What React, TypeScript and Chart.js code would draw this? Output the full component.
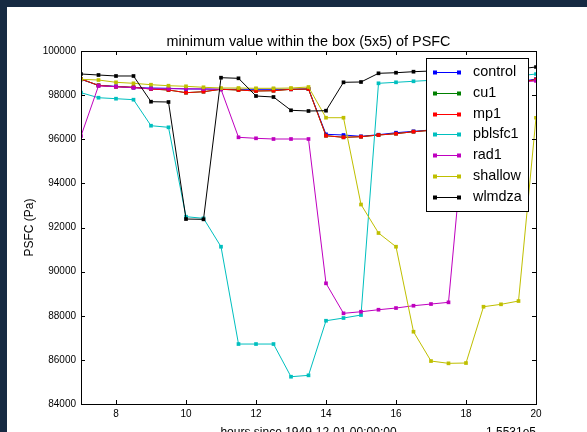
import React, { useEffect, useRef } from "react";
import { Chart, registerables } from "chart.js";

Chart.register(...registerables);

const W = 587;
const H = 432;

const hours = [7, 7.5, 8, 8.5, 9, 9.5, 10, 10.5, 11, 11.5, 12, 12.5, 13, 13.5, 14, 14.5, 15, 15.5, 16, 16.5, 17, 17.5, 18, 18.5, 19, 19.5, 20];

const control = [98717, 98440, 98400, 98336, 98323, 98309, 98277, 98277, 98264, 98264, 98264, 98264, 98264, 98277, 96224, 96192, 96133, 96206, 96297, 96360, 96419, 96464, 96510, 96555, 96620, 98600, 98730];
const cu1 = [98730, 98440, 98382, 98355, 98277, 98232, 98110, 98155, 98264, 98232, 98187, 98200, 98264, 98277, 96160, 96088, 96115, 96192, 96251, 96342, 96405, 96450, 96500, 96550, 96610, 98580, 98700];
const mp1 = [98730, 98440, 98382, 98355, 98277, 98232, 98110, 98155, 98264, 98232, 98187, 98200, 98264, 98277, 96160, 96088, 96115, 96192, 96251, 96342, 96405, 96450, 96500, 96550, 96610, 98580, 98700];
const pblsfc1 = [98110, 97883, 97838, 97793, 96614, 96541, 92489, 92416, 91129, 86718, 86718, 86718, 85236, 85299, 87774, 87897, 88033, 98536, 98581, 98627, 98672, 98708, 98731, 98776, 98820, 98870, 98957];
const rad1 = [96147, 98420, 98382, 98336, 98291, 98291, 98291, 98277, 98264, 96088, 96043, 96011, 96011, 96011, 89470, 88110, 88182, 88273, 88350, 88454, 88531, 88608, 97240, 98500, 98550, 98600, 98640];
const shallow = [98717, 98685, 98581, 98536, 98472, 98427, 98400, 98355, 98323, 98323, 98309, 98309, 98323, 98368, 96976, 96976, 93042, 91750, 91129, 87276, 85947, 85843, 85857, 88409, 88518, 88667, 96976];
const wlmdza = [98957, 98912, 98867, 98867, 97702, 97688, 92384, 92370, 98790, 98762, 97960, 97915, 97312, 97280, 97294, 98581, 98595, 98989, 99016, 99062, 99093, 99100, 99110, 99130, 99150, 99180, 99275];

const seriesNames = ["control", "cu1", "mp1", "pblsfc1", "rad1", "shallow", "wlmdza"];
const seriesColors = ["#0000ff", "#008000", "#ff0000", "#00bfbf", "#bf00bf", "#bfbf00", "#000000"];

const xTicks = [8, 10, 12, 14, 16, 18, 20];
const yTicks = [84000, 86000, 88000, 90000, 92000, 94000, 96000, 98000, 100000];

const titleText = "minimum value within the box (5x5) of PSFC";
const xLabel = "hours since 1949-12-01 00:00:00";
const yLabel = "PSFC (Pa)";
const offsetText = "1.5531e5";

const FONT = "'Liberation Sans', Arial, Helvetica, sans-serif";

export default function App() {
  const ref = useRef<HTMLCanvasElement>(null);

  useEffect(() => {
    const canvas = ref.current;
    if (!canvas) return;
    const values = [control, cu1, mp1, pblsfc1, rad1, shallow, wlmdza];
    const datasets = seriesNames.map((name, i) => ({
      label: name,
      data: hours.map((h, j) => ({ x: h, y: values[i][j] })),
      borderColor: seriesColors[i],
      backgroundColor: seriesColors[i],
      borderWidth: 1,
      pointRadius: 2.6,
      pointStyle: "rect" as const,
      pointBorderWidth: 0,
      tension: 0,
      order: seriesNames.length - i,
    }));

    const deco = {
      id: "deco",
      beforeDraw(chart: any) {
        const ctx = chart.ctx;
        ctx.save();
        ctx.fillStyle = "#162a42";
        ctx.fillRect(0, 0, W, H);
        ctx.fillStyle = "#ffffff";
        ctx.fillRect(7, 7, W - 7, H - 7);
        ctx.restore();
      },
      afterDatasetsDraw(chart: any) {
        const ctx = chart.ctx;
        const a = chart.chartArea;
        const xs = chart.scales.x;
        const ys = chart.scales.y;
        ctx.save();
        // frame
        ctx.strokeStyle = "#000";
        ctx.lineWidth = 1;
        ctx.strokeRect(Math.round(a.left) + 0.5, Math.round(a.top) + 0.5, Math.round(a.right - a.left), Math.round(a.bottom - a.top));
        // inward ticks
        ctx.beginPath();
        xTicks.forEach((t) => {
          const px = Math.round(xs.getPixelForValue(t)) + 0.5;
          ctx.moveTo(px, a.bottom);
          ctx.lineTo(px, a.bottom - 4);
          ctx.moveTo(px, a.top);
          ctx.lineTo(px, a.top + 4);
        });
        yTicks.forEach((t) => {
          const py = Math.round(ys.getPixelForValue(t)) + 0.5;
          ctx.moveTo(a.left, py);
          ctx.lineTo(a.left + 4, py);
          ctx.moveTo(a.right, py);
          ctx.lineTo(a.right - 4, py);
        });
        ctx.stroke();

        // legend
        const lx = 426, ly = 58, lw = 102, lh = 153;
        ctx.fillStyle = "#fff";
        ctx.fillRect(lx, ly, lw, lh);
        ctx.strokeStyle = "#000";
        ctx.strokeRect(lx + 0.5, ly + 0.5, lw, lh);
        ctx.font = `14.4px ${FONT}`;
        ctx.textBaseline = "middle";
        ctx.textAlign = "left";
        chart.data.datasets.forEach((ds: any, i: number) => {
          const y = Math.round(72 + i * 20.8) + 0.5;
          ctx.strokeStyle = ds.borderColor;
          ctx.fillStyle = ds.borderColor;
          ctx.beginPath();
          ctx.moveTo(435, y);
          ctx.lineTo(459, y);
          ctx.stroke();
          ctx.fillRect(433, y - 2, 4, 4);
          ctx.fillRect(457, y - 2, 4, 4);
          ctx.fillStyle = "#000";
          ctx.fillText(ds.label, 473, y);
        });

        // title
        const cx = (a.left + a.right) / 2;
        ctx.fillStyle = "#000";
        ctx.textAlign = "center";
        ctx.textBaseline = "alphabetic";
        ctx.font = `14.4px ${FONT}`;
        ctx.fillText(titleText, cx, 46);
        // x label
        ctx.font = `12px ${FONT}`;
        ctx.fillText(xLabel, cx, 436);
        // offset text
        ctx.textAlign = "right";
        ctx.fillText(offsetText, a.right, 436);
        // y label
        ctx.save();
        ctx.translate(33, (a.top + a.bottom) / 2);
        ctx.rotate(-Math.PI / 2);
        ctx.textAlign = "center";
        ctx.fillText(yLabel, 0, 0);
        ctx.restore();
        ctx.restore();
      },
    };

    const chart = new Chart(canvas, {
      type: "line",
      data: { datasets: datasets as any },
      options: {
        responsive: false,
        animation: false,
        devicePixelRatio: 1,
        layout: { padding: { left: 0, top: 51, right: 51, bottom: 0 } },
        plugins: { legend: { display: false }, title: { display: false }, tooltip: { enabled: false } },
        scales: {
          x: {
            type: "linear",
            min: 7,
            max: 20,
            grid: { display: false, drawTicks: false },
            border: { display: false },
            afterBuildTicks: (s: any) => {
              s.ticks = xTicks.map((v) => ({ value: v }));
            },
            afterFit: (s: any) => {
              s.height = 28;
            },
            ticks: {
              padding: 4,
              maxRotation: 0,
              autoSkip: false,
              color: "#000",
              font: { family: FONT, size: 10 },
              callback: (v: any) => String(v),
            },
          },
          y: {
            type: "linear",
            min: 84000,
            max: 100000,
            grid: { display: false, drawTicks: false },
            border: { display: false },
            afterBuildTicks: (s: any) => {
              s.ticks = yTicks.map((v) => ({ value: v }));
            },
            afterFit: (s: any) => {
              s.width = 81;
            },
            ticks: {
              padding: 5,
              autoSkip: false,
              color: "#000",
              font: { family: FONT, size: 10 },
              callback: (v: any) => String(v),
            },
          },
        },
      },
      plugins: [deco],
    });
    return () => chart.destroy();
  }, []);

  return (
    <div style={{ position: "absolute", left: 0, top: 0, width: W, height: H }}>
      <canvas ref={ref} width={W} height={H} style={{ display: "block", width: W, height: H }} />
    </div>
  );
}
